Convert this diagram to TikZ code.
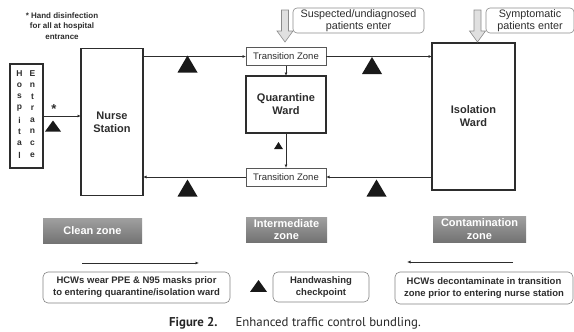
\documentclass[tikz,border=0pt]{standalone}
\usepackage{fontspec}
\setmainfont{Liberation Sans}
\newfontfamily\capfont{PT Sans}
\usetikzlibrary{arrows.meta}

\definecolor{zonetop}{RGB}{160,160,160}
\definecolor{zonebot}{RGB}{115,115,115}
\definecolor{ink}{RGB}{45,45,45}

\tikzset{
	ward/.style={draw=ink,line width=1.8pt,inner sep=0,outer sep=0,align=center,text=ink,font=\bfseries\fontsize{11}{13}\selectfont},
	tzone/.style={draw=ink!80,line width=0.6pt,inner sep=0,outer sep=0,minimum width=80,minimum height=18,text=ink,font=\fontsize{9.5}{11}\selectfont},
	letter/.style={inner sep=0,text=ink,font=\bfseries\fontsize{8.5}{9}\selectfont},
	conn/.style={draw=ink,line width=0.7pt,-{Latex[length=3.5pt,width=3pt]}},
	tag/.style={draw=ink!55,rounded corners=4pt,line width=0.6pt,inner sep=0,align=center,text=ink,font=\fontsize{10.8}{11.5}\selectfont},
	zonelbl/.style={top color=zonetop,bottom color=zonebot,draw=none,inner sep=0,align=center,text=white,font=\bfseries\fontsize{11}{12.5}\selectfont},
	legend/.style={draw=ink!60,rounded corners=5pt,line width=0.6pt,inner sep=0,align=center,text=ink,font=\bfseries\fontsize{9.5}{12}\selectfont},
	wash/.pic={\fill[black!90] (0,0) -- (10,17) -- (-10,17) -- cycle;},
	inarrow/.pic={\draw[draw=ink!55,fill=black!12,line width=0.6pt] (-3.5,0) -- (3.5,0) -- (3.5,21) -- (8,21) -- (0,32) -- (-8,21) -- (-3.5,21) -- cycle;}
}

\begin{document}
\begin{tikzpicture}[x=1pt,y=-1pt]
	\useasboundingbox (0,0) rectangle (574,332);
	% note on entrance
	\node[align=center,inner sep=0,text=ink,font=\bfseries\fontsize{8}{10.5}\selectfont] (note) at (62,26) {* Hand disinfection\\for all at hospital\\entrance};
	% hospital entrance
	\node[draw=ink,line width=1.2pt,inner sep=0,outer sep=0,minimum width=33,minimum height=104] (entr) at (26.5,116) {};
	\foreach \l [count=\i] in {H,o,s,p,i,t,a,l}
		\node[letter] (hl\i) at (19.5,61.5+11.7*\i) {\l};
	\foreach \l [count=\i] in {E,n,t,r,a,n,c,e}
		\node[letter] (hr\i) at (32.5,61.5+11.7*\i) {\l};
	% wards
	\node[ward,minimum width=62,minimum height=147] (nurse) at (112,122) {Nurse\\Station};
	\node[ward,minimum width=83,minimum height=147] (iso) at (473.5,116.5) {Isolation\\Ward};
	\node[ward,minimum width=80,minimum height=57] (quar) at (286,104.5) {Quarantine\\Ward};
	\node[tzone] (tztop) at (286,56.5) {Transition Zone};
	\node[tzone] (tzbot) at (286,177) {Transition Zone};
	% traffic
	\draw[conn] (entr.east) -- (nurse.west |- entr.east);
	\node[inner sep=0,text=ink,font=\bfseries\fontsize{13}{13}\selectfont] (star) at (54,109) {*};
	\draw[conn] (nurse.east |- tztop) -- (tztop.west);
	\draw[conn] (tztop.east) -- (iso.west |- tztop);
	\draw[conn] (iso.west |- tzbot) -- (tzbot.east);
	\draw[conn] (tzbot.west) -- (nurse.east |- tzbot);
	\draw[conn] (tztop.south) -- (quar.north);
	\draw[conn] (quar.south) -- (tzbot.north);
	% handwashing checkpoints
	\pic at (187.5,55.5) {wash};
	\pic at (372,57) {wash};
	\pic at (187.5,179.5) {wash};
	\pic at (376.5,179.5) {wash};
	\pic[xscale=0.8,yscale=0.65] at (53,120.5) {wash};
	\pic[xscale=0.45,yscale=0.42] at (278.5,142) {wash};
	% patients enter
	\pic at (285,10) {inarrow};
	\pic at (477.5,10) {inarrow};
	\node[tag,minimum width=131,minimum height=25] (susp) at (358.5,20.5) {Suspected/undiagnosed\\patients enter};
	\node[tag,minimum width=88,minimum height=25] (symp) at (530,20.5) {Symptomatic\\patients enter};
	% zones
	\node[zonelbl,minimum width=99,minimum height=25] (clean) at (92.5,230.5) {Clean zone};
	\node[zonelbl,minimum width=81,minimum height=25] (inter) at (286.5,229.5) {Intermediate\\zone};
	\node[zonelbl,minimum width=93,minimum height=26] (contam) at (479.5,229) {Contamination\\zone};
	% legend
	\coordinate (ppeS) at (82,263);
	\coordinate (ppeE) at (199,263);
	\coordinate (deconS) at (513,262);
	\coordinate (deconE) at (407,262);
	\draw[conn] (ppeS) -- (ppeE);
	\draw[conn] (deconS) -- (deconE);
	\node[legend,minimum width=187,minimum height=31] (ppe) at (136.5,287.5) {HCWs wear PPE \& N95 masks prior\\to entering quarantine/isolation ward};
	\pic[xscale=0.85,yscale=0.7] at (258.5,280) {wash};
	\node[legend,minimum width=96,minimum height=30] (hwash) at (321,287) {Handwashing\\checkpoint};
	\node[legend,minimum width=178,minimum height=32] (decon) at (484,288) {HCWs decontaminate in transition\\zone prior to entering nurse station};
	% caption
	\node[inner sep=0,text=black!85,font=\capfont\fontsize{12.8}{14}\selectfont] (cap) at (295,323.5) {\textbf{Figure 2.}\hspace{18pt}Enhanced traffic control bundling.};
\end{tikzpicture}
\end{document}
